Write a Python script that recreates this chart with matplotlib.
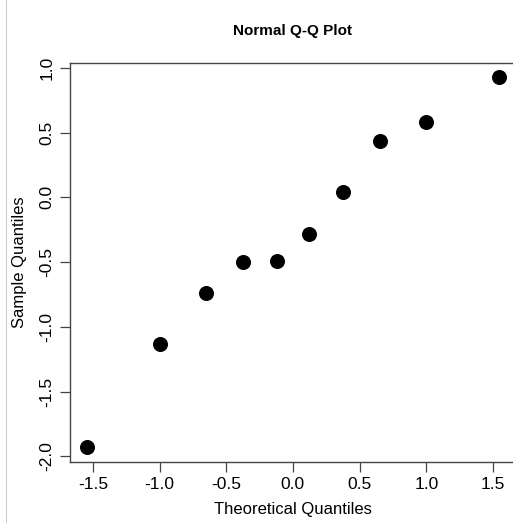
import matplotlib
matplotlib.use("Agg")
from matplotlib import pyplot as plt
from matplotlib.lines import Line2D

plt.rcParams["font.family"] = ["Liberation Sans", "DejaVu Sans"]

theoretical = [-1.547, -1.000, -0.655, -0.375, -0.123, 0.123, 0.375, 0.655, 1.000, 1.547]
sample = [-1.93, -1.136, -0.737, -0.498, -0.493, -0.28, 0.042, 0.435, 0.579, 0.926]

x_ticks = [-1.5, -1.0, -0.5, 0.0, 0.5, 1.0, 1.5]
y_ticks = [-2.0, -1.5, -1.0, -0.5, 0.0, 0.5, 1.0]

fig = plt.figure(figsize=(5.13, 5.23), dpi=100)
ax = fig.add_axes([0.1365, 0.1166, 0.869, 0.7634])

ax.plot(theoretical, sample, "o", color="black", markersize=9.8)

ax.set_xlim(-1.671, 1.671)
ax.set_ylim(-2.044, 1.039)
ax.set_xticks(x_ticks)
ax.set_xticklabels([f"{t:.1f}" for t in x_ticks])
ax.set_yticks(y_ticks)
ax.set_yticklabels([f"{t:.1f}" for t in y_ticks], rotation=90, va="center")

for side in ["left", "bottom", "top", "right"]:
    ax.spines[side].set_color("#444444")
    ax.spines[side].set_linewidth(1.0)

ax.tick_params(direction="out", length=7, width=0.9, color="#444444",
               labelsize=12.5, pad=4)

ax.set_title("Normal Q-Q Plot", fontsize=11, fontweight="bold", pad=20)
ax.set_xlabel("Theoretical Quantiles", fontsize=12, labelpad=7)
ax.set_ylabel("Sample Quantiles", fontsize=12, labelpad=9)

# faint edge line at the left of the picture
fig.add_artist(Line2D([6 / 513, 6 / 513], [0.0, 1.0], color="#cccccc", linewidth=0.8))

fig.savefig("out.png", dpi=100)
